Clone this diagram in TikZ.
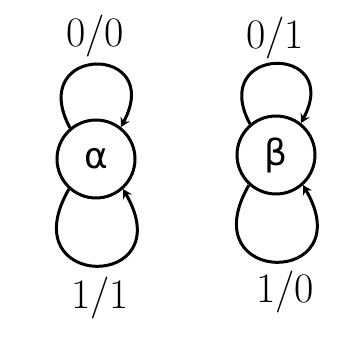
\documentclass[tikz,border=0pt]{standalone}
\usepackage{fontspec}
\newfontfamily\gkfont{DejaVu Sans}
\usetikzlibrary{arrows.meta}
\begin{document}
\begin{tikzpicture}[x=1pt,y=1pt,
  state/.style={draw,circle,line width=3pt,minimum size=78pt,inner sep=0pt,font=\gkfont\fontsize{36}{40}\selectfont},
  selfloop/.style={draw,line width=3pt,-{Stealth[length=9pt,width=10pt]}},
  lbl/.style={font=\fontsize{42}{46}\selectfont}]
\useasboundingbox (0,0) rectangle (345,342);
\node[state] (a) at (96,183) {α};
\node[state] (b) at (276,187) {β};
\draw[selfloop] (a.130) .. controls +(118:95) and +(62:95) .. (a.52);
\draw[selfloop] (a.-132) .. controls +(-120:118) and +(-60:118) .. (a.-48);
\draw[selfloop] (b.130) .. controls +(118:90) and +(62:90) .. (b.52);
\draw[selfloop] (b.-132) .. controls +(-120:118) and +(-60:118) .. (b.-48);
\node[lbl] (la) at (95,306) {0/0};
\node[lbl] (lb) at (275,304) {0/1};
\node[lbl] (lc) at (100,44) {1/1};
\node[lbl] (ld) at (285,50) {1/0};
\end{tikzpicture}
\end{document}
